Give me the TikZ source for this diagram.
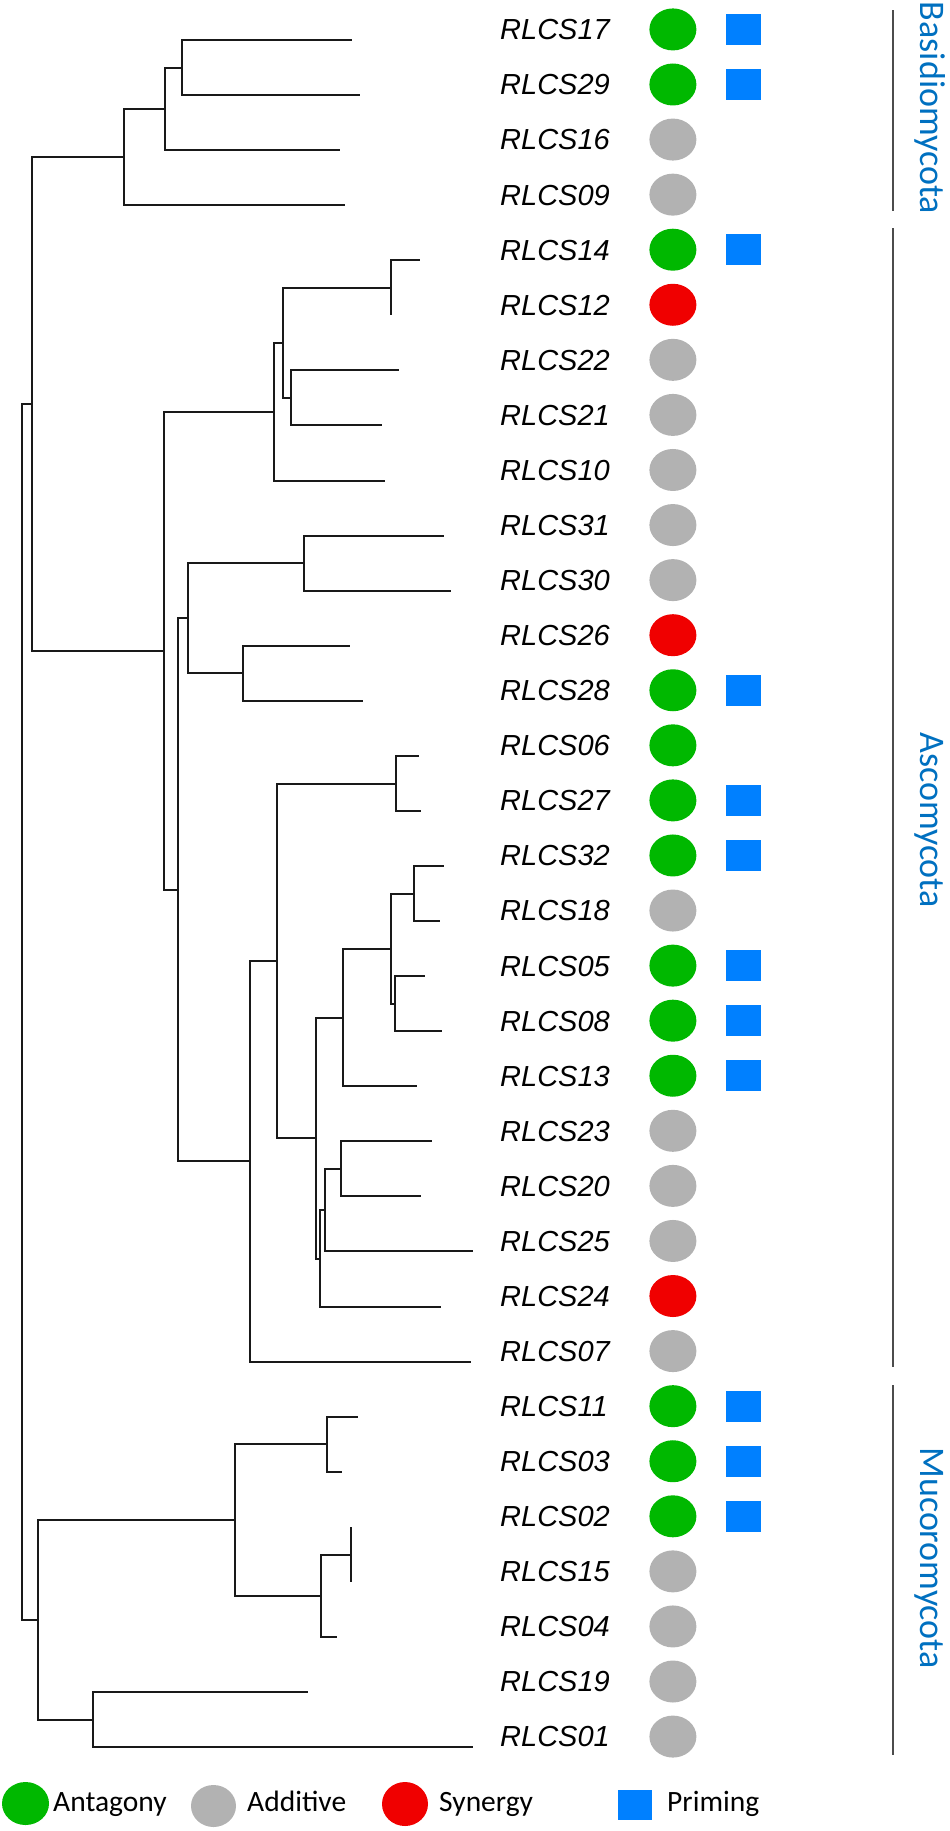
\documentclass[tikz,border=0pt]{standalone}
\usepackage{fontspec}
\usepackage{tikz}
\usetikzlibrary{matrix,shapes.geometric}
\newfontfamily\tagfont{Liberation Sans}
\newfontfamily\legfont{Carlito}
\definecolor{antgreen}{RGB}{0,184,0}
\definecolor{addgray}{RGB}{178,178,178}
\definecolor{synred}{RGB}{240,0,0}
\definecolor{primeblue}{RGB}{0,128,255}
\definecolor{phylumblue}{RGB}{0,112,192}
\tikzstyle{tag} = [font=\fontsize{29}{30}\selectfont\tagfont\itshape, anchor=west, text width=119.6pt, text height=20.8pt, text depth=0pt, align=left, inner sep=0pt]
\tikzstyle{effect} = [ellipse, anchor=center, minimum width=47pt, minimum height=42pt, inner sep=0pt]
\tikzstyle{prime} = [rectangle, anchor=center, fill=primeblue, minimum width=34.5pt, minimum height=31pt, inner sep=0pt]
\tikzstyle{branch} = [line width=2.1pt, draw=black!90]
\tikzstyle{clade} = [line width=2.1pt, draw=black!70]
\tikzstyle{phylum} = [font=\fontsize{36}{38}\selectfont\legfont, text=phylumblue, rotate=-90, anchor=base, inner sep=0pt]
\tikzstyle{legtext} = [font=\fontsize{29.5}{31}\selectfont\legfont, anchor=base west, inner sep=0pt]
\newcommand{\an}[1]{\node [effect, fill=antgreen] (e#1) {};}
\newcommand{\ad}[1]{\node [effect, fill=addgray] (e#1) {};}
\newcommand{\sy}[1]{\node [effect, fill=synred] (e#1) {};}
\newcommand{\pr}[1]{\node [prime] (p#1) {};}

\begin{document}
\begin{tikzpicture}[x=1pt, y=-1pt]
\useasboundingbox (0,0) rectangle (950,1831);
% isolates: name, effect, priming
\matrix (mat) at (500,8.2) [anchor=north west, inner sep=0pt, ampersand replacement=\&,
	column sep=29.6pt, row sep=13.07pt] {
	\node [tag] (s17) {RLCS17}; \& \an{17} \& \pr{17} \\
	\node [tag] (s29) {RLCS29}; \& \an{29} \& \pr{29} \\
	\node [tag] (s16) {RLCS16}; \& \ad{16} \& \\
	\node [tag] (s09) {RLCS09}; \& \ad{09} \& \\
	\node [tag] (s14) {RLCS14}; \& \an{14} \& \pr{14} \\
	\node [tag] (s12) {RLCS12}; \& \sy{12} \& \\
	\node [tag] (s22) {RLCS22}; \& \ad{22} \& \\
	\node [tag] (s21) {RLCS21}; \& \ad{21} \& \\
	\node [tag] (s10) {RLCS10}; \& \ad{10} \& \\
	\node [tag] (s31) {RLCS31}; \& \ad{31} \& \\
	\node [tag] (s30) {RLCS30}; \& \ad{30} \& \\
	\node [tag] (s26) {RLCS26}; \& \sy{26} \& \\
	\node [tag] (s28) {RLCS28}; \& \an{28} \& \pr{28} \\
	\node [tag] (s06) {RLCS06}; \& \an{06} \& \\
	\node [tag] (s27) {RLCS27}; \& \an{27} \& \pr{27} \\
	\node [tag] (s32) {RLCS32}; \& \an{32} \& \pr{32} \\
	\node [tag] (s18) {RLCS18}; \& \ad{18} \& \\
	\node [tag] (s05) {RLCS05}; \& \an{05} \& \pr{05} \\
	\node [tag] (s08) {RLCS08}; \& \an{08} \& \pr{08} \\
	\node [tag] (s13) {RLCS13}; \& \an{13} \& \pr{13} \\
	\node [tag] (s23) {RLCS23}; \& \ad{23} \& \\
	\node [tag] (s20) {RLCS20}; \& \ad{20} \& \\
	\node [tag] (s25) {RLCS25}; \& \ad{25} \& \\
	\node [tag] (s24) {RLCS24}; \& \sy{24} \& \\
	\node [tag] (s07) {RLCS07}; \& \ad{07} \& \\
	\node [tag] (s11) {RLCS11}; \& \an{11} \& \pr{11} \\
	\node [tag] (s03) {RLCS03}; \& \an{03} \& \pr{03} \\
	\node [tag] (s02) {RLCS02}; \& \an{02} \& \pr{02} \\
	\node [tag] (s15) {RLCS15}; \& \ad{15} \& \\
	\node [tag] (s04) {RLCS04}; \& \ad{04} \& \\
	\node [tag] (s19) {RLCS19}; \& \ad{19} \& \\
	\node [tag] (s01) {RLCS01}; \& \ad{01} \& \\
};

% tips
\coordinate (t17) at (352,40);
\coordinate (t29) at (360,95);
\coordinate (t16) at (340,150);
\coordinate (t09) at (345,205);
\coordinate (t14) at (420,260);
\coordinate (t12) at (391,315);
\coordinate (t22) at (399,370);
\coordinate (t21) at (382,425);
\coordinate (t10) at (385,481);
\coordinate (t31) at (444,536);
\coordinate (t30) at (451,591);
\coordinate (t26) at (350,646);
\coordinate (t28) at (363,701);
\coordinate (t06) at (419,756);
\coordinate (t27) at (421,811);
\coordinate (t32) at (444,866);
\coordinate (t18) at (440,921);
\coordinate (t05) at (425,976);
\coordinate (t08) at (442,1031);
\coordinate (t13) at (417,1086);
\coordinate (t23) at (432,1141);
\coordinate (t20) at (421,1196);
\coordinate (t25) at (473,1251);
\coordinate (t24) at (441,1307);
\coordinate (t07) at (471,1362);
\coordinate (t11) at (358,1417);
\coordinate (t03) at (342,1472);
\coordinate (t02) at (351,1527);
\coordinate (t15) at (351,1582);
\coordinate (t04) at (337,1637);
\coordinate (t19) at (308,1692);
\coordinate (t01) at (473,1747);

% inner nodes
\coordinate (root) at (22,1012);
\coordinate (n1) at (32,404);
\coordinate (b1) at (124,157);
\coordinate (b2) at (165,109);
\coordinate (b3) at (182,68);
\coordinate (a1) at (164,651);
\coordinate (a12) at (274,412);
\coordinate (a13) at (283,343);
\coordinate (a14) at (391,288);
\coordinate (a22) at (291,398);
\coordinate (a38) at (178,890);
\coordinate (a30) at (188,618);
\coordinate (a31) at (304,563);
\coordinate (a26) at (243,673);
\coordinate (a37) at (250,1161);
\coordinate (a36) at (277,961);
\coordinate (a06) at (396,784);
\coordinate (a35) at (316,1138);
\coordinate (a34) at (343,1018);
\coordinate (a33) at (391,949);
\coordinate (a32) at (414,894);
\coordinate (a05) at (395,1004);
\coordinate (a24) at (320,1259);
\coordinate (a25) at (325,1210);
\coordinate (a23) at (341,1169);
\coordinate (m1) at (38,1620);
\coordinate (m2) at (235,1520);
\coordinate (m11) at (327,1444);
\coordinate (m04) at (321,1596);
\coordinate (m02) at (351,1555);
\coordinate (m19) at (93,1720);

% tree
\draw [branch] (root) |- (n1) (root) |- (m1);
\draw [branch] (n1) |- (b1) (n1) |- (a1);
\draw [branch] (b1) |- (b2) (b1) |- (t09);
\draw [branch] (b2) |- (b3) (b2) |- (t16);
\draw [branch] (b3) |- (t17) (b3) |- (t29);
\draw [branch] (a1) |- (a12) (a1) |- (a38);
\draw [branch] (a12) |- (a13) (a12) |- (t10);
\draw [branch] (a13) |- (a14) (a13) |- (a22);
\draw [branch] (a14) |- (t14) (a14) |- (t12);
\draw [branch] (a22) |- (t22) (a22) |- (t21);
\draw [branch] (a38) |- (a30) (a38) |- (a37);
\draw [branch] (a30) |- (a31) (a30) |- (a26);
\draw [branch] (a31) |- (t31) (a31) |- (t30);
\draw [branch] (a26) |- (t26) (a26) |- (t28);
\draw [branch] (a37) |- (a36) (a37) |- (t07);
\draw [branch] (a36) |- (a06) (a36) |- (a35);
\draw [branch] (a06) |- (t06) (a06) |- (t27);
\draw [branch] (a35) |- (a34) (a35) |- (a24);
\draw [branch] (a34) |- (a33) (a34) |- (t13);
\draw [branch] (a33) |- (a32) (a33) |- (a05);
\draw [branch] (a32) |- (t32) (a32) |- (t18);
\draw [branch] (a05) |- (t05) (a05) |- (t08);
\draw [branch] (a24) |- (a25) (a24) |- (t24);
\draw [branch] (a25) |- (a23) (a25) |- (t25);
\draw [branch] (a23) |- (t23) (a23) |- (t20);
\draw [branch] (m1) |- (m2) (m1) |- (m19);
\draw [branch] (m2) |- (m11) (m2) |- (m04);
\draw [branch] (m11) |- (t11) (m11) |- (t03);
\draw [branch] (m04) |- (m02) (m04) |- (t04);
\draw [branch] (m02) |- (t02) (m02) |- (t15);
\draw [branch] (m19) |- (t19) (m19) |- (t01);

% phyla
\draw [clade] (893,10) -- (893,211);
\draw [clade] (893,228) -- (893,1367);
\draw [clade] (893,1385) -- (893,1755);
\node [phylum] (basidio) at (920,108) {Basidiomycota};
\node [phylum] (asco) at (920,820) {Ascomycota};
\node [phylum] (muco) at (920,1558) {Mucoromycota};

% legend
\node [effect, fill=antgreen, minimum height=43pt] (l-ant) at (25.5,1803.5) {};
\node [legtext] (l-ant-txt) at (53,1811.7) {Antagony};
\node [effect, fill=addgray, minimum width=45pt] (l-add) at (213.5,1806) {};
\node [legtext] (l-add-txt) at (247,1811.7) {Additive};
\node [effect, fill=synred, minimum width=46pt, minimum height=44pt] (l-syn) at (405,1804) {};
\node [legtext] (l-syn-txt) at (439,1811.7) {Synergy};
\node [prime, minimum width=34pt, minimum height=30pt] (l-pr) at (634.5,1805) {};
\node [legtext] (l-pr-txt) at (667,1811.7) {Priming};
\end{tikzpicture}
\end{document}
